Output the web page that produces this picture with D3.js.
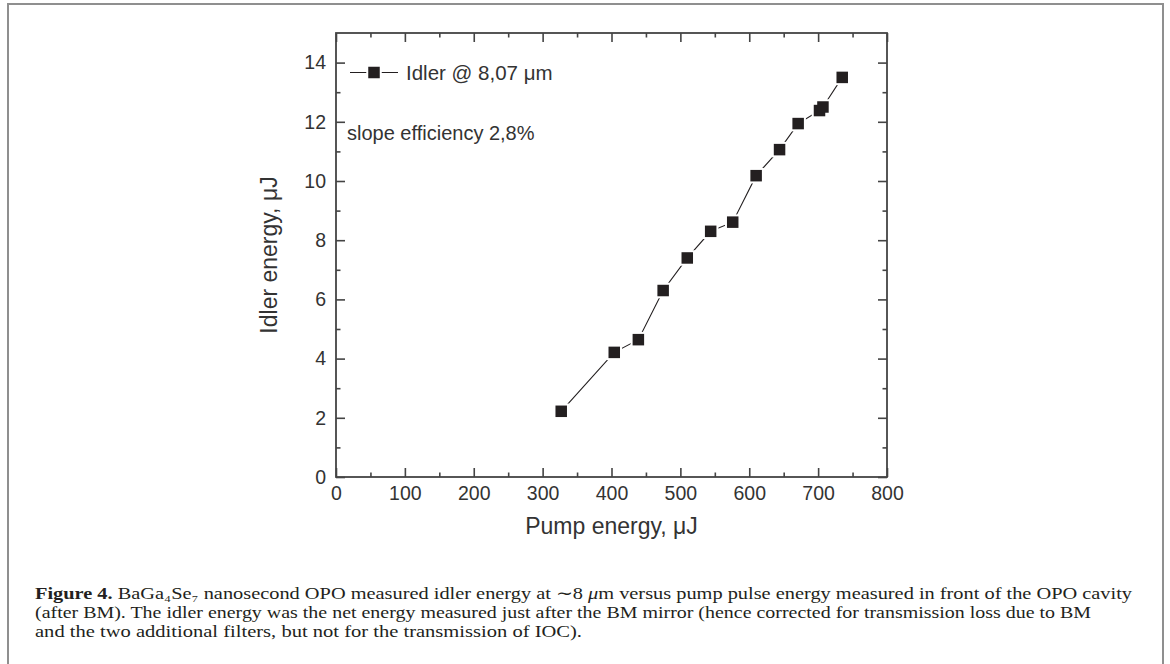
<!DOCTYPE html>
<html>
<head>
<meta charset="utf-8">
<script src="https://cdn.jsdelivr.net/npm/d3@7"></script>
<style>
  body { margin: 0; background: #fff; }
  svg { display: block; }
</style>
</head>
<body>
<div id="chart"></div>
<script>
// values
const pumpEnergy = [327, 404, 439, 475, 510, 544, 576, 610, 644, 671, 702, 707, 735];
const idlerEnergy = [2.22, 4.21, 4.64, 6.30, 7.40, 8.30, 8.61, 10.18, 11.06, 11.94, 12.38, 12.50, 13.50];
const xTicks = [0, 100, 200, 300, 400, 500, 600, 700, 800];
const xMinorTicks = [50, 150, 250, 350, 450, 550, 650, 750];
const yTicks = [0, 2, 4, 6, 8, 10, 12, 14];
const yMinorTicks = [1, 3, 5, 7, 9, 11, 13];
const seriesName = 'Idler @ 8,07 \u03bcm';
const note = 'slope efficiency 2,8%';

const width = 1170;
const height = 664;
const margin = {top: 33, right: 283, bottom: 187, left: 336};
const axisColor = '#444';
const inkColor = '#231f20';
const sans = '"Liberation Sans", Arial, sans-serif';

const svg = d3.select('#chart').append('svg')
    .attr('width', width)
    .attr('height', height);

// page frame
svg.append('rect')
    .attr('x', 8).attr('y', 4)
    .attr('width', 1155).attr('height', 720)
    .attr('fill', 'none')
    .attr('stroke', '#8f8f8f')
    .attr('stroke-width', 2);

const x = d3.scaleLinear()
    .domain([0, 800])
    .range([margin.left, width - margin.right]);

const y = d3.scaleLinear()
    .domain([0, 15])
    .range([height - margin.bottom, margin.top]);

const plotW = x.range()[1] - x.range()[0];
const plotH = y.range()[0] - y.range()[1];

function styleAxis(g) {
    g.select('.domain').remove();
    g.selectAll('.tick line').attr('stroke', axisColor).attr('stroke-width', 1.6);
    g.selectAll('.tick text')
        .attr('fill', '#333')
        .style('font-family', sans)
        .style('font-size', '19.5px');
}

// bottom
svg.append('g')
    .attr('transform', `translate(0, ${y(0)})`)
    .call(d3.axisBottom(x).tickValues(xTicks).tickSizeInner(-9).tickSizeOuter(0).tickPadding(9).tickFormat(d3.format('d')))
    .call(styleAxis);
svg.append('g')
    .attr('transform', `translate(0, ${y(0)})`)
    .call(d3.axisBottom(x).tickValues(xMinorTicks).tickSizeInner(-4.5).tickSizeOuter(0).tickFormat(''))
    .call(styleAxis);
// top
svg.append('g')
    .attr('transform', `translate(0, ${y(15)})`)
    .call(d3.axisTop(x).tickValues(xTicks).tickSizeInner(-9).tickSizeOuter(0).tickFormat(''))
    .call(styleAxis);
svg.append('g')
    .attr('transform', `translate(0, ${y(15)})`)
    .call(d3.axisTop(x).tickValues(xMinorTicks).tickSizeInner(-4.5).tickSizeOuter(0).tickFormat(''))
    .call(styleAxis);
// left
svg.append('g')
    .attr('transform', `translate(${x(0)}, 0)`)
    .call(d3.axisLeft(y).tickValues(yTicks).tickSizeInner(-9).tickSizeOuter(0).tickPadding(10).tickFormat(d3.format('d')))
    .call(styleAxis);
svg.append('g')
    .attr('transform', `translate(${x(0)}, 0)`)
    .call(d3.axisLeft(y).tickValues(yMinorTicks).tickSizeInner(-4.5).tickSizeOuter(0).tickFormat(''))
    .call(styleAxis);
// right
svg.append('g')
    .attr('transform', `translate(${x(800)}, 0)`)
    .call(d3.axisRight(y).tickValues(yTicks).tickSizeInner(-9).tickSizeOuter(0).tickFormat(''))
    .call(styleAxis);
svg.append('g')
    .attr('transform', `translate(${x(800)}, 0)`)
    .call(d3.axisRight(y).tickValues(yMinorTicks).tickSizeInner(-4.5).tickSizeOuter(0).tickFormat(''))
    .call(styleAxis);

// plot frame
svg.append('rect')
    .attr('x', x(0)).attr('y', y(15))
    .attr('width', plotW).attr('height', plotH)
    .attr('fill', 'none')
    .attr('stroke', axisColor)
    .attr('stroke-width', 1.8);

// axis titles
svg.append('text')
    .attr('x', x(400))
    .attr('y', 534)
    .attr('text-anchor', 'middle')
    .attr('fill', '#333')
    .style('font-family', sans)
    .style('font-size', '23px')
    .text('Pump energy, \u03bcJ');

svg.append('text')
    .attr('transform', `translate(277, ${y(7.5)}) rotate(-90)`)
    .attr('text-anchor', 'middle')
    .attr('fill', '#333')
    .style('font-family', sans)
    .style('font-size', '23px')
    .text('Idler energy, \u03bcJ');

// series
const points = pumpEnergy.map((p, i) => ({p: p, e: idlerEnergy[i]}));

svg.append('path')
    .datum(points)
    .attr('fill', 'none')
    .attr('stroke', inkColor)
    .attr('stroke-width', 1.1)
    .attr('d', d3.line().x(d => x(d.p)).y(d => y(d.e)));

const sq = 11.5;
// white halo first so the line stops short of each square
svg.selectAll('.halo')
    .data(points)
    .join('rect')
    .attr('class', 'halo')
    .attr('x', d => x(d.p) - sq / 2 - 2)
    .attr('y', d => y(d.e) - sq / 2 - 2)
    .attr('width', sq + 4)
    .attr('height', sq + 4)
    .attr('fill', '#fff');
svg.selectAll('.marker')
    .data(points)
    .join('rect')
    .attr('class', 'marker')
    .attr('x', d => x(d.p) - sq / 2)
    .attr('y', d => y(d.e) - sq / 2)
    .attr('width', sq)
    .attr('height', sq)
    .attr('fill', inkColor);

// legend
const legY = 72.5;
svg.append('line')
    .attr('x1', 350).attr('x2', 398)
    .attr('y1', legY).attr('y2', legY)
    .attr('stroke', inkColor)
    .attr('stroke-width', 1.1);
svg.append('rect')
    .attr('x', 374 - sq / 2 - 2).attr('y', legY - sq / 2 - 2)
    .attr('width', sq + 4).attr('height', sq + 4)
    .attr('fill', '#fff');
svg.append('rect')
    .attr('x', 374 - sq / 2).attr('y', legY - sq / 2)
    .attr('width', sq).attr('height', sq)
    .attr('fill', inkColor);
svg.append('text')
    .attr('x', 406).attr('y', legY + 7)
    .attr('fill', '#333')
    .style('font-family', sans)
    .style('font-size', '20.5px')
    .text(seriesName);

svg.append('text')
    .attr('x', 347).attr('y', 140)
    .attr('fill', '#333')
    .style('font-family', sans)
    .style('font-size', '20px')
    .text(note);

// caption
const cap = svg.append('g')
    .attr('fill', inkColor)
    .style('font-family', '"Liberation Serif", "Times New Roman", serif')
    .style('font-size', '17px');

const l1 = cap.append('text').attr('x', 35).attr('y', 599)
    .attr('textLength', 1097).attr('lengthAdjust', 'spacingAndGlyphs');
l1.append('tspan').attr('font-weight', 'bold').text('Figure 4.');
l1.append('tspan').text(' BaGa\u2084Se\u2087 nanosecond OPO measured idler energy at \u223c8 ');
l1.append('tspan').attr('font-style', 'italic').text('\u03bc');
l1.append('tspan').text('m versus pump pulse energy measured in front of the OPO cavity');

cap.append('text').attr('x', 35).attr('y', 618)
    .attr('textLength', 1056).attr('lengthAdjust', 'spacingAndGlyphs')
    .text('(after BM). The idler energy was the net energy measured just after the BM mirror (hence corrected for transmission loss due to BM');
cap.append('text').attr('x', 35).attr('y', 637)
    .attr('textLength', 547).attr('lengthAdjust', 'spacingAndGlyphs')
    .text('and the two additional filters, but not for the transmission of IOC).');
</script>
</body>
</html>
